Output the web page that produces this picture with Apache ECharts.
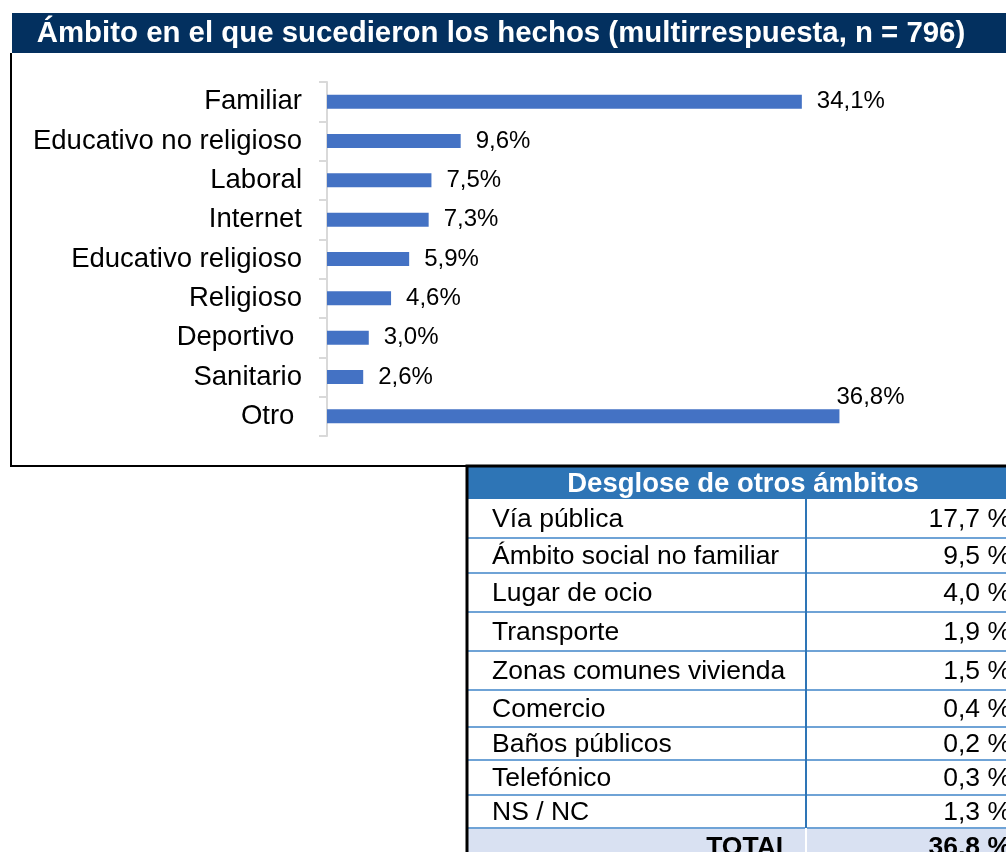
<!DOCTYPE html>
<html>
<head>
<meta charset="utf-8">
<title>Ámbito en el que sucedieron los hechos</title>
<script src="https://cdn.jsdelivr.net/npm/echarts@6/dist/echarts.min.js"></script>
<style>
  html, body { margin: 0; padding: 0; background: #fff; }
  #main { width: 1006px; height: 852px; }
</style>
</head>
<body>
<div id="main"></div>
<script>
// datos del gráfico principal
var categories = ['Familiar', 'Educativo no religioso', 'Laboral', 'Internet', 'Educativo religioso',
    'Religioso', 'Deportivo ', 'Sanitario', 'Otro '];
var values = [34.1, 9.6, 7.5, 7.3, 5.9, 4.6, 3.0, 2.6, 36.8];

// tabla "Desglose de otros ámbitos"
var otrosNames = ['Vía pública', 'Ámbito social no familiar', 'Lugar de ocio', 'Transporte',
    'Zonas comunes vivienda', 'Comercio', 'Baños públicos', 'Telefónico', 'NS / NC'];
var otrosValues = [17.7, 9.5, 4.0, 1.9, 1.5, 0.4, 0.2, 0.3, 1.3];
var otrosTotal = 36.8;

var titleText = 'Ámbito en el que sucedieron los hechos (multirrespuesta, n = 796)';
var tableTitle = 'Desglose de otros ámbitos';

var FONT = '"Liberation Sans", Arial, sans-serif';

function fmt(v, sep) {
    return v.toFixed(1).replace('.', ',') + (sep || '') + '%';
}

var myChart = echarts.init(document.getElementById('main'), null, {renderer: 'canvas'});

// filas de la tabla (bordes en y)
var rowEdges = [499, 538, 573, 612, 651, 690, 727, 760, 795, 828, 866];
var tblLeft = 467, tblRight = 1012, tblDiv = 806;

var graphics = [];

// barra del título
graphics.push({
    type: 'rect', shape: {x: 12, y: 13, width: 1000, height: 40},
    style: {fill: '#03305F'}, z: 10
});
graphics.push({
    type: 'text', z: 11,
    style: {
        x: 501, y: 34, text: titleText, fill: '#fff',
        font: 'bold 29.4px ' + FONT, align: 'center', verticalAlign: 'middle',
        textAlign: 'center', textVerticalAlign: 'middle'
    }
});

// marco del gráfico
graphics.push({
    type: 'polyline', z: 10,
    shape: {points: [[11, 53], [11, 466], [1010, 466]]},
    style: {stroke: '#000', lineWidth: 2, fill: null}
});

// cabecera de la tabla
graphics.push({
    type: 'rect', z: 9, shape: {x: tblLeft, y: 467, width: tblRight - tblLeft, height: rowEdges[0] - 467},
    style: {fill: '#2E75B6'}
});
graphics.push({
    type: 'text', z: 11,
    style: {
        x: 743, y: 484, text: tableTitle, fill: '#fff',
        font: 'bold 27.5px ' + FONT, align: 'center', verticalAlign: 'middle',
        textAlign: 'center', textVerticalAlign: 'middle'
    }
});

// fila total sombreada
var nRows = otrosNames.length;
graphics.push({
    type: 'rect', z: 9,
    shape: {x: tblLeft, y: rowEdges[nRows], width: tblRight - tblLeft, height: rowEdges[nRows + 1] - rowEdges[nRows]},
    style: {fill: '#D9E1F2'}
});

// separadores horizontales
for (var i = 1; i <= nRows; i++) {
    graphics.push({
        type: 'line', z: 10,
        shape: {x1: tblLeft, y1: rowEdges[i], x2: tblRight, y2: rowEdges[i]},
        style: {stroke: '#6FA3D6', lineWidth: 2}
    });
}
// divisor vertical
graphics.push({
    type: 'line', z: 10,
    shape: {x1: tblDiv, y1: rowEdges[0], x2: tblDiv, y2: rowEdges[nRows]},
    style: {stroke: '#2E75B6', lineWidth: 2}
});
graphics.push({
    type: 'line', z: 10,
    shape: {x1: tblDiv, y1: rowEdges[nRows], x2: tblDiv, y2: 852},
    style: {stroke: '#fff', lineWidth: 2}
});

// textos de filas
for (var j = 0; j < nRows; j++) {
    var cy = (rowEdges[j] + rowEdges[j + 1]) / 2 + 1;
    graphics.push({
        type: 'text', z: 11,
        style: {x: 492, y: cy, text: otrosNames[j], fill: '#000', font: '26.5px ' + FONT,
            align: 'left', verticalAlign: 'middle', textAlign: 'left', textVerticalAlign: 'middle'}
    });
    graphics.push({
        type: 'text', z: 11,
        style: {x: 1011, y: cy, text: fmt(otrosValues[j], ' '), fill: '#000', font: '26.5px ' + FONT,
            align: 'right', verticalAlign: 'middle', textAlign: 'right', textVerticalAlign: 'middle'}
    });
}
var ty = (rowEdges[nRows] + rowEdges[nRows + 1]) / 2 + 1;
graphics.push({
    type: 'text', z: 11,
    style: {x: 792, y: ty, text: 'TOTAL', fill: '#000', font: 'bold 26.5px ' + FONT,
        align: 'right', verticalAlign: 'middle', textAlign: 'right', textVerticalAlign: 'middle'}
});
graphics.push({
    type: 'text', z: 11,
    style: {x: 1011, y: ty, text: fmt(otrosTotal, ' '), fill: '#000', font: 'bold 26.5px ' + FONT,
        align: 'right', verticalAlign: 'middle', textAlign: 'right', textVerticalAlign: 'middle'}
});

// borde negro de la tabla
graphics.push({
    type: 'polyline', z: 10,
    shape: {points: [[467, 852], [467, 466], [1010, 466]]},
    style: {stroke: '#000', lineWidth: 3, fill: null}
});

var seriesData = values.map(function (v, idx) {
    if (idx === values.length - 1) {
        return {value: v, label: {position: 'right', distance: 0, offset: [-3, -19]}};
    }
    return v;
});

option = {
    backgroundColor: '#fff',
    animation: false,
    grid: {left: 327, top: 82, width: 557, height: 354, containLabel: false},
    xAxis: {
        type: 'value', min: 0, max: 40,
        show: false
    },
    yAxis: {
        type: 'category',
        data: categories,
        inverse: true,
        axisLine: {lineStyle: {color: '#D9D9D9', width: 2}},
        axisTick: {show: true, length: 8, lineStyle: {color: '#D9D9D9', width: 2}},
        axisLabel: {color: '#000', fontFamily: FONT, fontSize: 27.5, margin: 25, padding: [4, 0, 0, 0]}
    },
    series: [{
        type: 'bar',
        data: seriesData,
        barWidth: 14,
        itemStyle: {color: '#4472C4'},
        label: {
            show: true, position: 'right', distance: 15,
            color: '#000', fontFamily: FONT, fontSize: 24,
            formatter: function (p) { return fmt(p.value); }
        }
    }],
    graphic: {elements: graphics}
};

myChart.setOption(option);
</script>
</body>
</html>
